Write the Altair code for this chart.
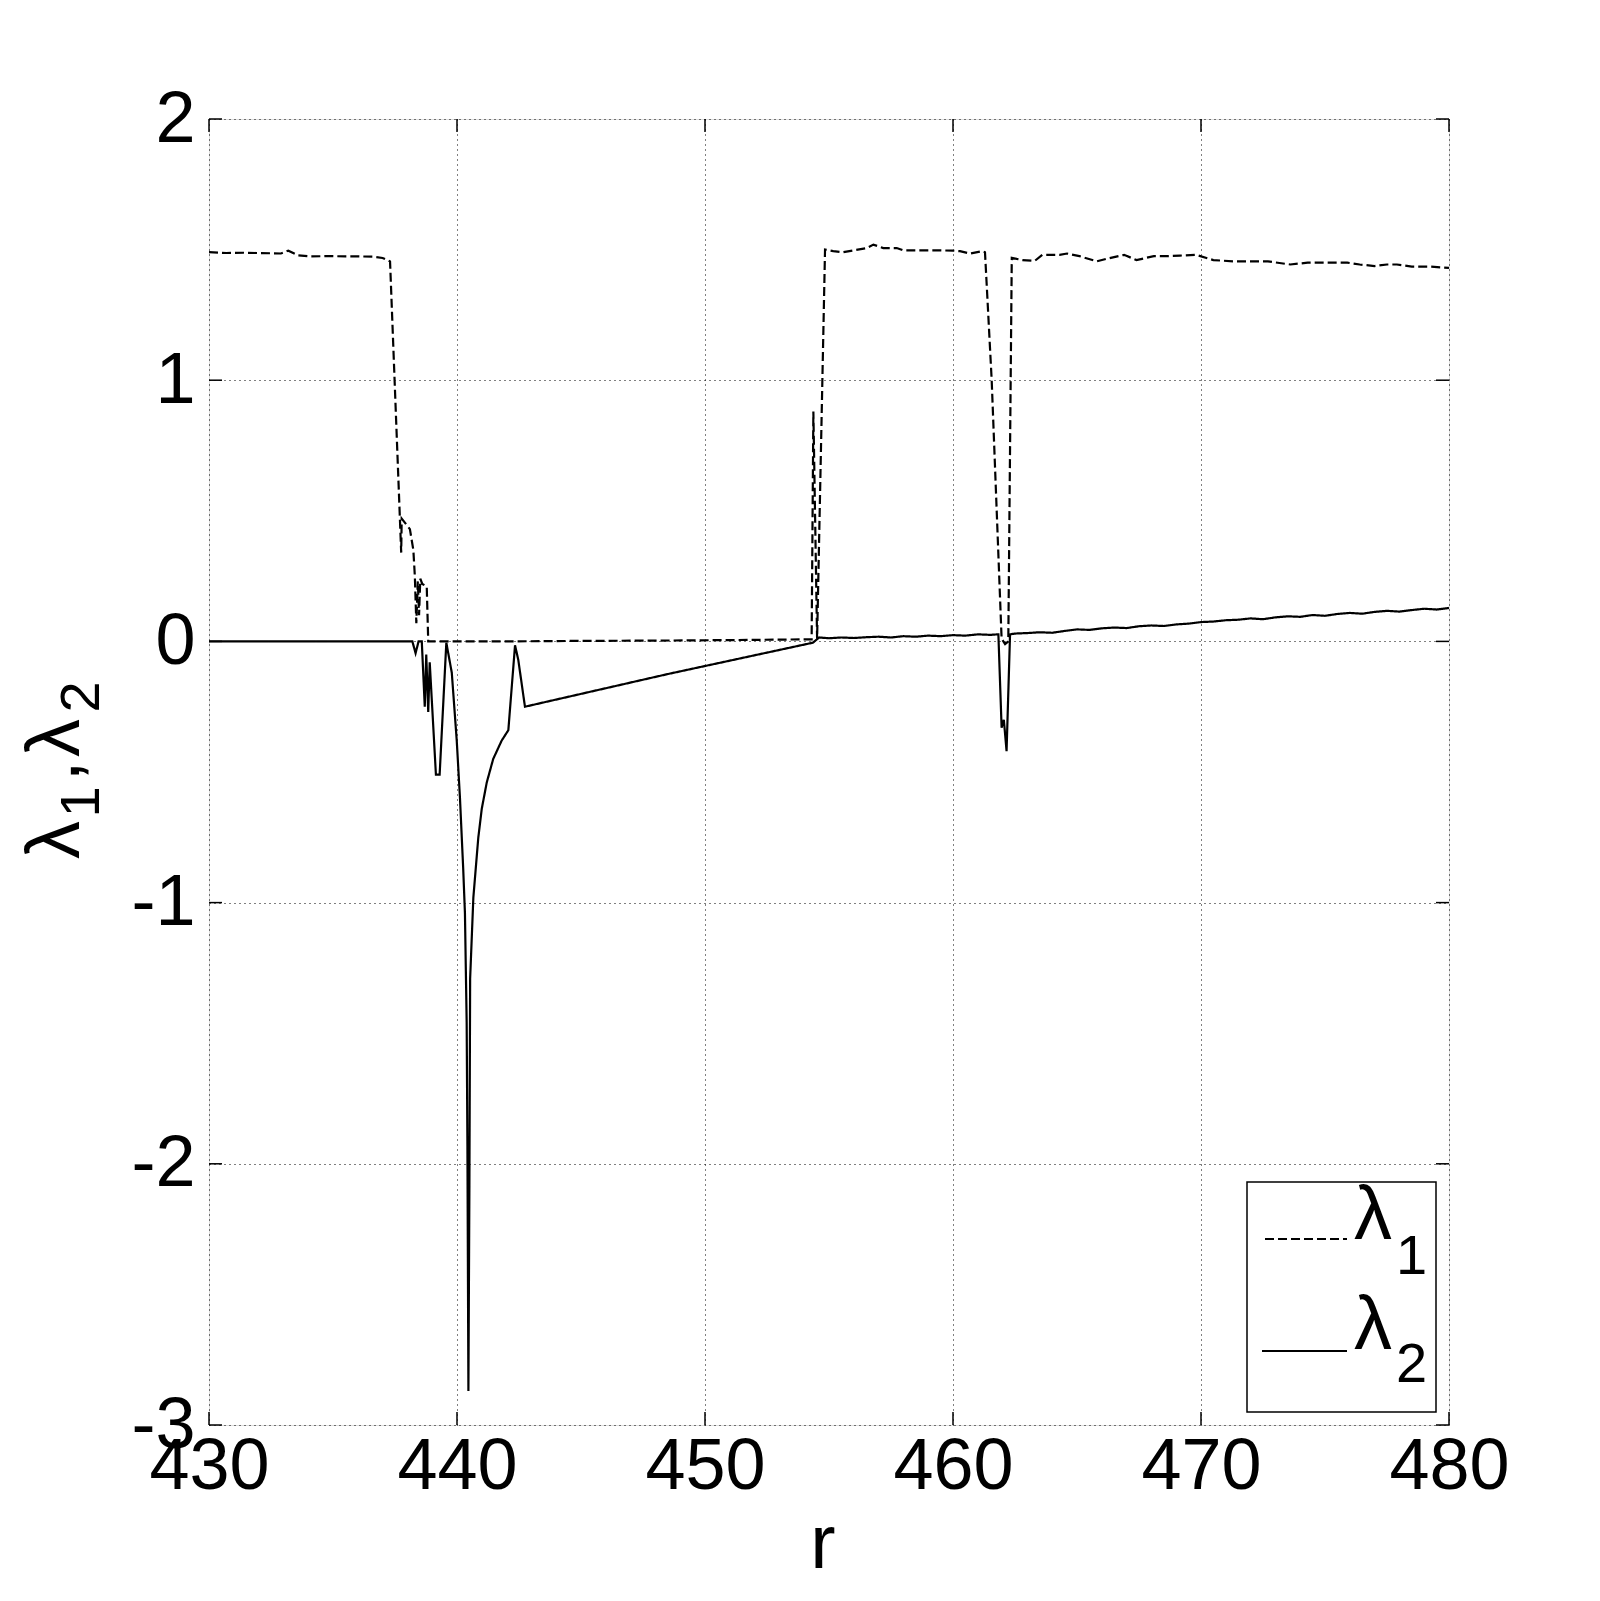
import altair as alt
import pandas as pd

# ---- data ----
r1 = [430.0, 430.7, 431.4, 431.9, 432.5, 432.9, 433.2, 433.6, 434.1, 434.8, 435.5, 436.0, 436.6, 437.0, 437.3,
      437.75, 437.77, 438.10, 438.24, 438.30, 438.36, 438.42, 438.47, 438.52, 438.60, 438.78, 438.84,
      439.5, 442.0, 445.0, 448.0, 451.0, 454.30, 454.37, 454.52, 454.84,
      455.17, 455.58, 455.98, 456.52, 456.79, 457.19, 457.73, 458.0, 458.94, 459.48, 460.0, 460.28, 460.69,
      461.16, 461.29, 461.56, 461.96, 462.10, 462.23, 462.37,
      462.8, 463.3, 463.6, 464.3, 464.6, 465.1, 465.8, 466.2, 466.9, 467.4, 468.1, 468.6, 469.15, 469.8,
      470.5, 471.3, 472.1, 472.7, 473.6, 474.3, 475.9, 476.4, 477.0, 477.5, 477.9, 478.5, 479.2, 480.0]
lam1 = [1.490, 1.487, 1.488, 1.487, 1.486, 1.485, 1.496, 1.478, 1.474, 1.475, 1.474, 1.474, 1.473, 1.468, 1.455,
        0.34, 0.47, 0.43, 0.35, 0.25, 0.07, 0.23, 0.10, 0.24, 0.22, 0.21, 0.0,
        0.0, 0.0, 0.002, 0.003, 0.005, 0.008, 0.88, 0.01, 1.50,
        1.494, 1.49, 1.497, 1.506, 1.519, 1.506, 1.506, 1.497, 1.497, 1.497, 1.496, 1.494, 1.485,
        1.494, 1.49, 1.0, 0.01, -0.01, 0.0, 1.468,
        1.46, 1.457, 1.48, 1.48, 1.485, 1.475, 1.455, 1.465, 1.48, 1.46, 1.475, 1.475, 1.477, 1.48,
        1.46, 1.455, 1.455, 1.455, 1.443, 1.45, 1.45, 1.443, 1.437, 1.443, 1.443, 1.435, 1.435, 1.43]

r2 = [430.0, 438.20, 438.33, 438.45, 438.58, 438.70, 438.76, 438.84, 438.90, 439.15, 439.30, 439.57,
      439.79, 439.99, 440.12, 440.25, 440.32, 440.39, 440.42, 440.46, 440.50, 440.53, 440.66, 440.86,
      441.00, 441.20, 441.46, 441.80, 442.07, 442.34, 442.47, 442.74, 448.5, 454.35, 454.6,
      455.0, 455.5, 456.0, 456.5, 457.0, 457.5, 458.0, 458.5, 459.0, 459.5, 460.0, 460.5, 461.0, 461.5,
      461.83, 461.96, 462.05, 462.16, 462.30, 462.5, 463.0, 463.5, 464.0, 464.5, 465.0, 465.5, 466.0,
      466.5, 467.0, 467.5, 468.0, 468.5, 469.0, 469.5, 470.0, 470.5, 471.0, 471.5, 472.0, 472.5, 473.0,
      473.5, 474.0, 474.5, 475.0, 475.5, 476.0, 476.5, 477.0, 477.5, 478.0, 478.5, 479.0, 479.5, 480.0]
lam2 = [0.0, 0.0, -0.045, 0.0, 0.0, -0.25, -0.05, -0.27, -0.08, -0.51, -0.51, -0.005,
        -0.12, -0.38, -0.60, -0.87, -1.04, -1.46, -1.93, -2.87, -2.09, -1.29, -0.98, -0.75,
        -0.64, -0.54, -0.45, -0.38, -0.34, -0.015, -0.07, -0.25, -0.125, -0.005, 0.015,
        0.012, 0.015, 0.013, 0.016, 0.018, 0.015, 0.02, 0.018, 0.022, 0.02, 0.024, 0.022, 0.027, 0.025,
        0.027, -0.33, -0.30, -0.42, 0.027, 0.03, 0.032, 0.035, 0.033, 0.04, 0.046, 0.044, 0.05,
        0.053, 0.051, 0.058, 0.061, 0.059, 0.065, 0.068, 0.074, 0.076, 0.081, 0.083, 0.088, 0.085, 0.092,
        0.096, 0.094, 0.101, 0.098, 0.105, 0.109, 0.106, 0.113, 0.117, 0.114, 0.12, 0.125, 0.122, 0.128]

x_ticks = [430, 440, 450, 460, 470, 480]
y_ticks = [-3, -2, -1, 0, 1, 2]
series = ["λ1", "λ2"]

W, H = 1240, 1306
FONT = "Liberation Sans"
TICK = 13

df = pd.concat([
    pd.DataFrame({"r": r1, "v": lam1, "s": series[0], "i": list(range(len(r1)))}),
    pd.DataFrame({"r": r2, "v": lam2, "s": series[1], "i": list(range(len(r2)))}),
])

xs = alt.Scale(domain=[430, 480], nice=False, zero=False)
ys = alt.Scale(domain=[-3, 2], nice=False, zero=False)

lines = alt.Chart(df).mark_line(color="black", strokeWidth=2.2, clip=True).encode(
    x=alt.X("r:Q", scale=xs, axis=alt.Axis(
        values=x_ticks, title=None, grid=True, gridDash=[1, 4], gridColor="#000", gridOpacity=1,
        gridWidth=1, domain=False, ticks=False, labelFont=FONT, labelFontSize=72, labelColor="#000",
        labelPadding=6, labelFlush=False)),
    y=alt.Y("v:Q", scale=ys, axis=alt.Axis(
        values=y_ticks, title=None, grid=True, gridDash=[1, 4], gridColor="#000", gridOpacity=1,
        gridWidth=1, domain=False, ticks=False, labelFont=FONT, labelFontSize=72, labelColor="#000",
        labelPadding=14, labelFlush=False,
        labelExpr="datum.value < 0 ? '-' + toString(-datum.value) : toString(datum.value)")),
    strokeDash=alt.StrokeDash("s:N", scale=alt.Scale(domain=series, range=[[9, 4], [1, 0]]), legend=None),
    detail="s:N",
    order="i:Q",
)

# inward tick marks on all four sides (MATLAB style)
xt = pd.DataFrame({"t": x_ticks})
yt = pd.DataFrame({"t": y_ticks})
tick_bottom = alt.Chart(xt).mark_rule(color="black", strokeWidth=1.5).encode(
    x=alt.X("t:Q", scale=xs), y=alt.value(H), y2=alt.value(H - TICK))
tick_top = alt.Chart(xt).mark_rule(color="black", strokeWidth=1.5).encode(
    x=alt.X("t:Q", scale=xs), y=alt.value(0), y2=alt.value(TICK))
tick_left = alt.Chart(yt).mark_rule(color="black", strokeWidth=1.5).encode(
    y=alt.Y("t:Q", scale=ys), x=alt.value(0), x2=alt.value(TICK))
tick_right = alt.Chart(yt).mark_rule(color="black", strokeWidth=1.5).encode(
    y=alt.Y("t:Q", scale=ys), x=alt.value(W - TICK), x2=alt.value(W))

one = pd.DataFrame({"k": [0]})


def txt(t, x, y, size, angle=0, align="left", baseline="alphabetic"):
    kw = dict(text=t, font=FONT, fontSize=size, color="black", align=align, baseline=baseline)
    if angle:
        kw["angle"] = angle
    return alt.Chart(one).mark_text(**kw).encode(x=alt.value(x), y=alt.value(y))


# axis titles
title_layers = [
    txt("r", 614, 1449, 76, align="center"),
    txt("λ", -130, 721, 76, angle=270, align="center"),
    txt("1", -110, 683, 56, angle=270, align="center"),
    txt(",", -130, 652, 76, angle=270, align="center"),
    txt("λ", -130, 619, 76, angle=270, align="center"),
    txt("2", -110, 578, 56, angle=270, align="center"),
]

# legend
box = alt.Chart(one).mark_rect(fill="white", stroke="black", strokeWidth=1.5).encode(
    x=alt.value(1038), x2=alt.value(1227), y=alt.value(1063), y2=alt.value(1293))
leg_dash = alt.Chart(one).mark_rule(color="black", strokeWidth=1.8, strokeDash=[9, 4]).encode(
    x=alt.value(1056), x2=alt.value(1138), y=alt.value(1120))
leg_solid = alt.Chart(one).mark_rule(color="black", strokeWidth=1.8).encode(
    x=alt.value(1053), x2=alt.value(1138), y=alt.value(1232))
legend_layers = [
    box, leg_dash, leg_solid,
    txt("λ", 1145, 1120, 76),
    txt("1", 1187, 1155, 56),
    txt("λ", 1145, 1230, 76),
    txt("2", 1187, 1263, 56),
]

chart = alt.layer(lines, tick_bottom, tick_top, tick_left, tick_right,
                  *title_layers, *legend_layers).properties(
    width=W, height=H,
    padding={"left": 201, "top": 111, "right": 143, "bottom": 168},
    autosize=alt.AutoSizeParams(type="none"),
).configure_view(stroke="black", strokeWidth=1.5).configure(background="white")

chart.save("out.html", embed_options={"renderer": "svg", "actions": False})
